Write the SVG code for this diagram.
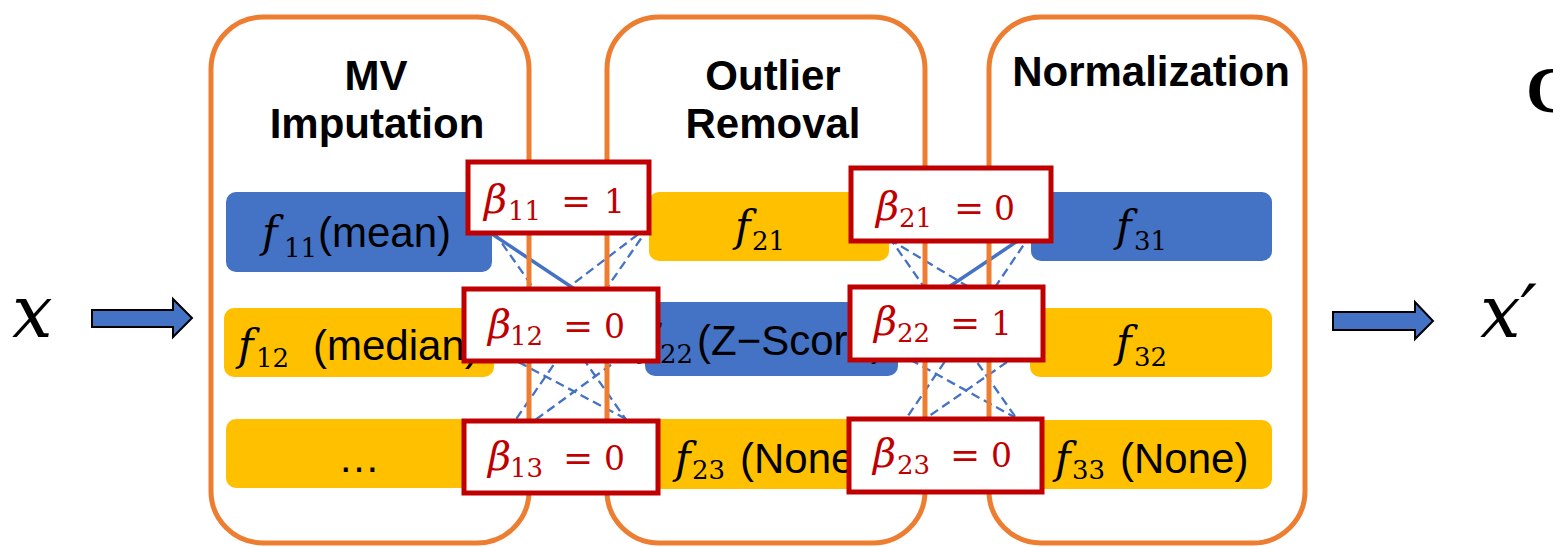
<svg xmlns="http://www.w3.org/2000/svg" width="1553" height="547" viewBox="0 0 1553 547">
<style>
.panel{fill:none;stroke:#ED7D31;stroke-width:5}
.title{font-family:"Liberation Sans",Arial,sans-serif;font-weight:bold;font-size:42px;fill:#000;text-anchor:middle}
.blue{fill:#4472C4}
.yel{fill:#FFC000}
.lbl{font-family:"Liberation Sans",Arial,sans-serif;font-size:42px;fill:#000}
.fi{font-family:"DejaVu Serif",serif;font-style:italic;font-size:42px}
.fs{font-family:"DejaVu Serif",serif;font-size:26px}
.beta rect{fill:#fff;stroke:#C00000;stroke-width:5}
.bt{fill:#C00000;font-family:"DejaVu Serif",serif}
.bg{font-style:italic;font-size:40px}
.bs{font-size:26px}
.be{font-size:36px}
.bd{font-size:33px}
.sol{stroke:#4472C4;stroke-width:3.5;fill:none}
.dash{stroke:#4472C4;stroke-width:2.3;fill:none;stroke-dasharray:9 5}
.arrow{fill:#4472C4;stroke:#000;stroke-width:2}
.var{font-family:"DejaVu Serif",serif;font-style:italic;font-size:72px;fill:#000}
</style>

<g id="connectors">
<line class="sol" x1="492" y1="234" x2="645" y2="336"/>
<line class="dash" x1="494" y1="232" x2="658" y2="465"/>
<line class="dash" x1="649" y1="226" x2="494" y2="344"/>
<line class="dash" x1="649" y1="227" x2="494" y2="451"/>
<line class="dash" x1="494" y1="349" x2="658" y2="436"/>
<line class="dash" x1="645" y1="340" x2="494" y2="450"/>
<line class="sol" x1="898" y1="321" x2="1031" y2="232"/>
<line class="dash" x1="1031" y1="234" x2="889" y2="444"/>
<line class="dash" x1="889" y1="239" x2="1030" y2="324"/>
<line class="dash" x1="889" y1="237" x2="1045" y2="459"/>
<line class="dash" x1="898" y1="353" x2="1045" y2="434"/>
<line class="dash" x1="1030" y1="346" x2="889" y2="444"/>
</g>

<g id="panel-mv">
<rect class="panel" x="211" y="17" width="318" height="526" rx="52"/>
<text class="title" x="376" y="90">MV</text>
<text class="title" x="377" y="138">Imputation</text>
</g>
<g id="panel-outlier">
<rect class="panel" x="607" y="17" width="318" height="526" rx="52"/>
<text class="title" x="773" y="90">Outlier</text>
<text class="title" x="773" y="138">Removal</text>
</g>
<g id="panel-norm">
<rect class="panel" x="989" y="17" width="316" height="526" rx="52"/>
<text class="title" x="1151" y="86">Normalization</text>
</g>

<g id="f11">
<rect class="blue" x="226" y="192" width="266" height="80" rx="10"/>
<text class="lbl"><tspan class="fi" x="262" y="247">f</tspan><tspan class="fs" x="284" y="257">11</tspan><tspan x="318" y="247">(mean)</tspan></text>
</g>
<g id="f12">
<rect class="yel" x="224" y="308" width="270" height="69" rx="10"/>
<text class="lbl"><tspan class="fi" x="238" y="360">f</tspan><tspan class="fs" x="256" y="367">12</tspan><tspan x="313" y="360">(median)</tspan></text>
</g>
<g id="f13">
<rect class="yel" x="226" y="419" width="266" height="69" rx="10"/>
<text class="lbl" x="359" y="472" text-anchor="middle">…</text>
</g>

<g id="f21">
<rect class="yel" x="649" y="192" width="240" height="69" rx="10"/>
<text class="lbl"><tspan class="fi" x="735" y="241">f</tspan><tspan class="fs" x="752" y="250">21</tspan></text>
</g>
<g id="f22">
<rect class="blue" x="645" y="302" width="253" height="74" rx="10"/>
<text class="lbl"><tspan class="fi" x="640" y="355">f</tspan><tspan class="fs" x="660" y="363">22</tspan><tspan x="697" y="355">(Z−Score)</tspan></text>
</g>
<g id="f23">
<rect class="yel" x="649" y="419" width="240" height="70" rx="10"/>
<text class="lbl"><tspan class="fi" x="675" y="473">f</tspan><tspan class="fs" x="692" y="479">23</tspan><tspan x="740" y="473">(None)</tspan></text>
</g>

<g id="f31">
<rect class="blue" x="1031" y="192" width="241" height="69" rx="10"/>
<text class="lbl"><tspan class="fi" x="1116" y="241">f</tspan><tspan class="fs" x="1134" y="250">31</tspan></text>
</g>
<g id="f32">
<rect class="yel" x="1030" y="308" width="242" height="69" rx="10"/>
<text class="lbl"><tspan class="fi" x="1116" y="357">f</tspan><tspan class="fs" x="1134" y="366">32</tspan></text>
</g>
<g id="f33">
<rect class="yel" x="1030" y="420" width="242" height="69" rx="10"/>
<text class="lbl"><tspan class="fi" x="1055" y="473">f</tspan><tspan class="fs" x="1072" y="479">33</tspan><tspan x="1120" y="473">(None)</tspan></text>
</g>

<g id="beta11" class="beta">
<rect x="468" y="162" width="181" height="71"/>
<text class="bt"><tspan class="bg" x="484" y="213">β</tspan><tspan class="bs" x="508" y="220">11</tspan><tspan class="be" x="561" y="213">=</tspan><tspan class="bd" x="604" y="213">1</tspan></text>
</g>
<g id="beta12" class="beta">
<rect x="464" y="289" width="194" height="72"/>
<text class="bt"><tspan class="bg" x="488" y="338">β</tspan><tspan class="bs" x="510" y="345">12</tspan><tspan class="be" x="563" y="338">=</tspan><tspan class="bd" x="604" y="338">0</tspan></text>
</g>
<g id="beta13" class="beta">
<rect x="464" y="421" width="194" height="72"/>
<text class="bt"><tspan class="bg" x="488" y="470">β</tspan><tspan class="bs" x="510" y="477">13</tspan><tspan class="be" x="563" y="470">=</tspan><tspan class="bd" x="604" y="470">0</tspan></text>
</g>
<g id="beta21" class="beta">
<rect x="851" y="168" width="200" height="73"/>
<text class="bt"><tspan class="bg" x="876" y="220">β</tspan><tspan class="bs" x="899" y="227">21</tspan><tspan class="be" x="954" y="220">=</tspan><tspan class="bd" x="994" y="220">0</tspan></text>
</g>
<g id="beta22" class="beta">
<rect x="850" y="287" width="193" height="73"/>
<text class="bt"><tspan class="bg" x="874" y="335">β</tspan><tspan class="bs" x="897" y="342">22</tspan><tspan class="be" x="950" y="335">=</tspan><tspan class="bd" x="991" y="335">1</tspan></text>
</g>
<g id="beta23" class="beta">
<rect x="849" y="419" width="193" height="73"/>
<text class="bt"><tspan class="bg" x="873" y="467">β</tspan><tspan class="bs" x="897" y="474">23</tspan><tspan class="be" x="950" y="467">=</tspan><tspan class="bd" x="991" y="467">0</tspan></text>
</g>

<g id="input">
<text class="var" x="12" y="337">x</text>
<polygon class="arrow" points="92,310 173,310 173,299 192,318 173,337 173,327 92,327"/>
</g>
<g id="output">
<polygon class="arrow" points="1333,312 1415,312 1415,302 1433,321 1415,339 1415,330 1333,330"/>
<text class="var" x="1480" y="337">x′</text>
</g>
<text x="1526" y="112" font-family="'Liberation Serif',serif" font-weight="bold" font-size="66" fill="#000">C</text>
</svg>
